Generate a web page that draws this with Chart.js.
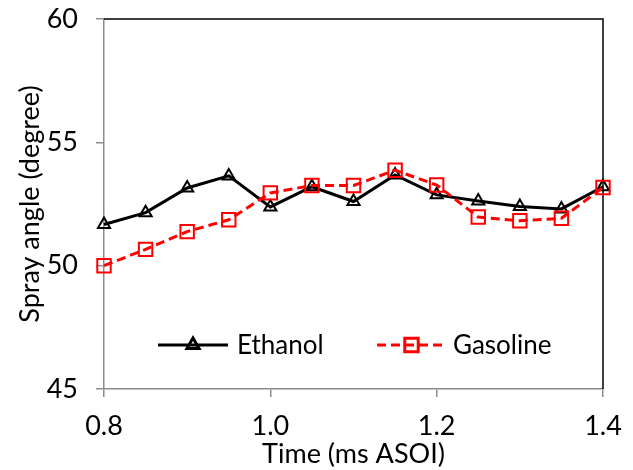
<!DOCTYPE html>
<html lang="en">
<head>
<meta charset="UTF-8">
<title>Spray angle</title>
<script src="https://cdn.jsdelivr.net/npm/chart.js"></script>
<style>
  body { margin: 0; background: #fff; }
  #wrap { width: 633px; height: 470px; }
</style>
</head>
<body>
<div id="wrap"><canvas id="grafico"></canvas></div>
<script>
// data
const times = [0.8, 0.85, 0.9, 0.95, 1.0, 1.05, 1.1, 1.15, 1.2, 1.25, 1.3, 1.35, 1.4];
const ethanol = [51.67, 52.15, 53.15, 53.64, 52.38, 53.2, 52.6, 53.68, 52.87, 52.62, 52.4, 52.3, 53.2];
const gasoline = [50.0, 50.66, 51.38, 51.86, 52.95, 53.25, 53.25, 53.87, 53.27, 51.97, 51.82, 51.92, 53.17];
const seriesNames = ['Ethanol', 'Gasoline'];
const xTicks = [0.8, 1.0, 1.2, 1.4];
const yTicks = [45, 50, 55, 60];

const fontFamily = 'Lato, "Liberation Sans", sans-serif';

function toPoints(ys) {
    return times.map((t, i) => ({ x: t, y: ys[i] }));
}

// legend drawn inside the plot, line sample with marker in the middle
const innerLegend = {
    id: 'innerLegend',
    afterDraw(chart) {
        const ctx = chart.ctx;
        const items = [
            { ds: chart.data.datasets[0], x0: 158, x1: 228, tx: 237 },
            { ds: chart.data.datasets[1], x0: 377, x1: 446, tx: 453 }
        ];
        const y = 345;
        items.forEach(it => {
            ctx.save();
            ctx.strokeStyle = it.ds.borderColor;
            ctx.lineWidth = it.ds.borderWidth;
            ctx.setLineDash(it.ds.borderDash || []);
            ctx.beginPath();
            ctx.moveTo(it.x0, y);
            ctx.lineTo(it.x1, y);
            ctx.stroke();
            ctx.setLineDash([]);
            Chart.helpers.drawPoint(ctx, {
                pointStyle: it.ds.pointStyle,
                radius: it.ds.pointRadius,
                borderWidth: it.ds.pointBorderWidth,
                rotation: 0
            }, (it.x0 + it.x1) / 2, y);
            ctx.fillStyle = '#000';
            ctx.font = '26px ' + fontFamily;
            ctx.textBaseline = 'middle';
            ctx.fillText(it.ds.label, it.tx, y + 1);
            ctx.restore();
        });
    }
};

// black frame on top and right of the plot area
const plotFrame = {
    id: 'plotFrame',
    beforeDatasetsDraw(chart) {
        const { ctx, chartArea: a } = chart;
        ctx.save();
        ctx.strokeStyle = '#000';
        ctx.lineWidth = 1.5;
        ctx.beginPath();
        ctx.moveTo(a.left, a.top);
        ctx.lineTo(a.right, a.top);
        ctx.lineTo(a.right, a.bottom);
        ctx.stroke();
        ctx.restore();
    }
};

const ctx = document.getElementById('grafico').getContext('2d');
new Chart(ctx, {
    type: 'line',
    data: {
        datasets: [
            {
                label: seriesNames[0],
                data: toPoints(ethanol),
                borderColor: '#000',
                backgroundColor: '#fff',
                borderWidth: 3,
                pointStyle: 'triangle',
                pointRadius: 7,
                pointBorderWidth: 2,
                pointBorderColor: '#000',
                pointBackgroundColor: 'rgba(255,255,255,0)',
                tension: 0,
                clip: false,
                order: 1
            },
            {
                label: seriesNames[1],
                data: toPoints(gasoline),
                borderColor: '#ff0000',
                backgroundColor: '#fff',
                borderWidth: 3,
                borderDash: [9, 5],
                pointStyle: 'rect',
                pointRadius: 9.5,
                pointBorderWidth: 2,
                pointBorderColor: '#ff0000',
                pointBackgroundColor: 'rgba(255,255,255,0)',
                tension: 0,
                clip: false,
                order: 0
            }
        ]
    },
    options: {
        responsive: true,
        maintainAspectRatio: false,
        animation: false,
        layout: { padding: { left: 0, right: 30, top: 19, bottom: 0 } },
        plugins: {
            legend: { display: false },
            tooltip: { enabled: false }
        },
        scales: {
            x: {
                type: 'linear',
                min: 0.8,
                max: 1.4,
                afterFit(scale) {
                    scale.height = 81;
                    scale.paddingLeft = 0;
                    scale.paddingRight = 0;
                },
                afterBuildTicks(scale) { scale.ticks = xTicks.map(v => ({ value: v })); },
                ticks: {
                    color: '#000',
                    padding: 13,
                    maxRotation: 0,
                    font: { family: fontFamily, size: 27 },
                    callback: v => Number(v).toFixed(1)
                },
                grid: { drawOnChartArea: false, drawTicks: true, tickLength: 8, color: '#8c8c8c', lineWidth: 1.5 },
                border: { color: '#8c8c8c', width: 1.5 },
                title: {
                    display: true,
                    text: 'Time (ms ASOI)',
                    color: '#000',
                    font: { family: fontFamily, size: 27 },
                    padding: { top: 0, bottom: 0 }
                }
            },
            y: {
                min: 45,
                max: 60,
                afterFit(scale) {
                    scale.width = 104;
                    scale.paddingTop = 0;
                    scale.paddingBottom = 0;
                },
                afterBuildTicks(scale) { scale.ticks = yTicks.map(v => ({ value: v })); },
                ticks: {
                    color: '#000',
                    padding: 18,
                    font: { family: fontFamily, size: 27 }
                },
                grid: { drawOnChartArea: false, drawTicks: true, tickLength: 8, color: '#8c8c8c', lineWidth: 1.5 },
                border: { color: '#8c8c8c', width: 1.5 },
                title: {
                    display: true,
                    text: 'Spray angle (degree)',
                    color: '#000',
                    font: { family: fontFamily, size: 27 },
                    padding: { top: 14, bottom: 0 }
                }
            }
        }
    },
    plugins: [plotFrame, innerLegend]
});
</script>
</body>
</html>
